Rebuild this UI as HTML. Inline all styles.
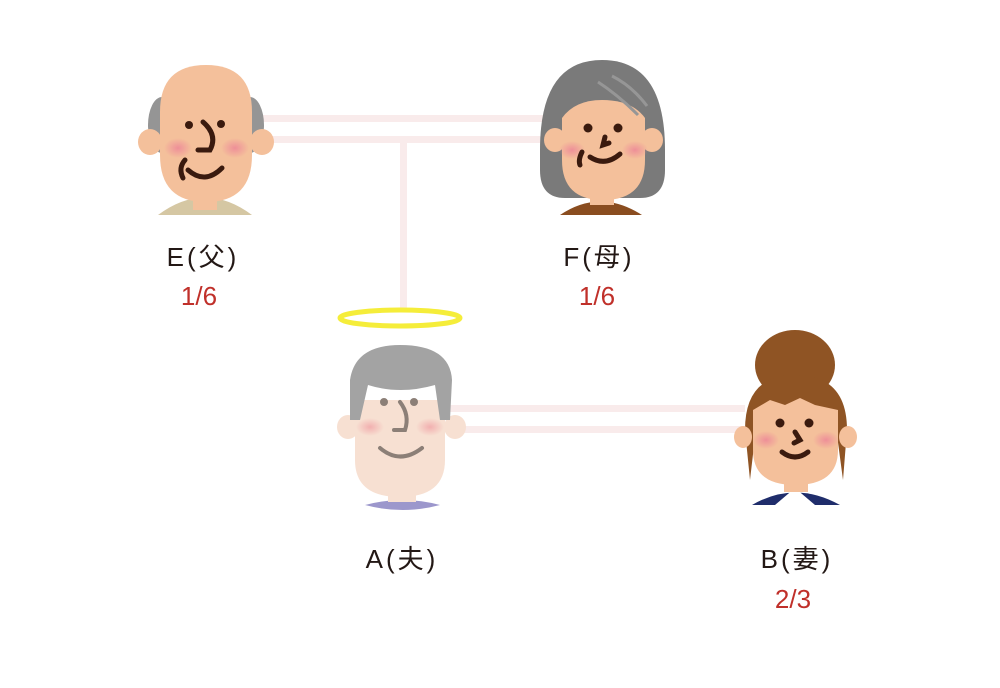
<!DOCTYPE html>
<html><head><meta charset="utf-8"><style>
html,body{margin:0;padding:0;background:#fff;}
svg{display:block}
text{font-family:"Liberation Sans","Noto Sans CJK JP",sans-serif;font-size:26px;text-anchor:middle}
.n{fill:#231815;letter-spacing:3px}.r{fill:#c0302a}
</style></head><body>
<svg width="1000" height="688" viewBox="0 0 1000 688" xmlns="http://www.w3.org/2000/svg">
<defs>
<radialGradient id="ch"><stop offset="0" stop-color="#ee8f98"/><stop offset="1" stop-color="#ee8f98" stop-opacity="0"/></radialGradient>
</defs>
<g fill="#f9ebeb">
<rect x="255" y="115" width="295" height="7"/>
<rect x="255" y="136" width="295" height="7"/>
<rect x="400" y="143" width="7" height="167"/>
<rect x="450" y="405" width="295" height="7"/>
<rect x="450" y="426" width="295" height="7"/>
</g>
<!-- E father -->
<path d="M158 215 Q205 180 252 215 Z" fill="#d5c7a3"/>
<rect x="193" y="180" width="24" height="30" fill="#f4c09b"/>
<ellipse cx="162" cy="125" rx="14" ry="28" fill="#959595"/>
<ellipse cx="250" cy="125" rx="14" ry="28" fill="#959595"/>
<ellipse cx="150" cy="142" rx="12" ry="13" fill="#f4c09b"/>
<ellipse cx="262" cy="142" rx="12" ry="13" fill="#f4c09b"/>
<path d="M160 112 Q160 65 206 65 Q252 65 252 112 L252 155 Q252 202 206 202 Q160 202 160 155 Z" fill="#f4c09b"/>
<ellipse cx="178" cy="148" rx="14" ry="10" fill="url(#ch)"/>
<ellipse cx="235" cy="148" rx="14" ry="10" fill="url(#ch)"/>
<g fill="none" stroke="#3a1a0e" stroke-width="5" stroke-linecap="round">
<path d="M203 122 Q218 135 210 150 L198 150"/>
<path d="M185 160 Q178 168 183 178"/>
<path d="M188 170 Q205 185 222 168"/>
</g>
<circle cx="189" cy="125" r="4" fill="#3a1a0e"/><circle cx="221" cy="124" r="4" fill="#3a1a0e"/>
<!-- F mother -->
<path d="M540 150 Q540 60 602 60 Q665 60 665 150 L665 170 Q665 198 640 198 L565 198 Q540 198 540 170 Z" fill="#7a7a7a"/>
<path d="M560 215 Q600 188 642 215 Z" fill="#8a4d20"/>
<rect x="590" y="180" width="24" height="25" fill="#f4c09b"/>
<ellipse cx="555" cy="140" rx="11" ry="12" fill="#f4c09b"/>
<ellipse cx="652" cy="140" rx="11" ry="12" fill="#f4c09b"/>
<path d="M562 118 Q575 100 602 100 Q632 100 645 118 L645 160 Q645 200 603 200 Q562 200 562 160 Z" fill="#f4c09b"/>
<g fill="none" stroke="#969696" stroke-width="3"><path d="M598 82 Q618 95 638 115"/><path d="M612 76 Q632 86 647 106"/></g>
<ellipse cx="572" cy="150" rx="13" ry="9" fill="url(#ch)"/>
<ellipse cx="635" cy="150" rx="13" ry="9" fill="url(#ch)"/>
<circle cx="588" cy="128" r="4.5" fill="#3a1a0e"/><circle cx="618" cy="128" r="4.5" fill="#3a1a0e"/>
<g fill="none" stroke="#3a1a0e" stroke-width="5" stroke-linecap="round">
<path d="M605 137 L603 145 L609 143"/><path d="M582 152 Q578 160 580 165"/><path d="M590 157 Q605 167 620 154"/>
</g>
<!-- A husband -->
<ellipse cx="400" cy="318" rx="60" ry="8" fill="none" stroke="#f5ed3a" stroke-width="5"/>
<path d="M365 505 Q403 495 440 505 Q403 515 365 505 Z" fill="#9c97cc"/>
<rect x="388" y="480" width="28" height="22" fill="#f7e0d2"/>
<ellipse cx="348" cy="427" rx="11" ry="12" fill="#f7e0d2"/>
<ellipse cx="455" cy="427" rx="11" ry="12" fill="#f7e0d2"/>
<path d="M355 400 L445 400 L445 460 Q445 497 400 497 Q355 497 355 460 Z" fill="#f7e0d2"/>
<path d="M350 420 L350 380 Q355 345 400 345 Q450 345 452 380 L450 420 L440 420 L435 385 Q400 395 368 385 L360 420 Z" fill="#a3a3a3"/>
<ellipse cx="370" cy="427" rx="14" ry="9" fill="url(#ch)" opacity=".6"/>
<ellipse cx="430" cy="427" rx="14" ry="9" fill="url(#ch)" opacity=".6"/>
<circle cx="384" cy="402" r="4" fill="#8c7f77"/><circle cx="414" cy="402" r="4" fill="#8c7f77"/>
<g fill="none" stroke="#8c7f77" stroke-width="4" stroke-linecap="round">
<path d="M400 402 Q410 415 405 430 L394 430"/><path d="M380 448 Q400 465 422 448"/>
</g>
<!-- B wife -->
<path d="M752 505 Q795 480 840 505 Z" fill="#1f2d6b"/>
<path d="M775 505 L795 488 L815 505 Z" fill="#fff"/>
<rect x="784" y="470" width="24" height="22" fill="#f4c09b"/>
<ellipse cx="795" cy="365" rx="40" ry="35" fill="#8f5424"/>
<path d="M745 430 Q745 375 795 375 Q847 375 847 430 L843 480 L835 420 L757 420 L750 480 Z" fill="#8f5424"/>
<ellipse cx="743" cy="437" rx="9" ry="11" fill="#f4c09b"/>
<ellipse cx="848" cy="437" rx="9" ry="11" fill="#f4c09b"/>
<path d="M753 410 L770 400 L785 405 L800 398 L815 405 L838 410 L838 450 Q838 485 795 485 Q753 485 753 450 Z" fill="#f4c09b"/>
<ellipse cx="766" cy="440" rx="13" ry="9" fill="url(#ch)"/>
<ellipse cx="826" cy="440" rx="13" ry="9" fill="url(#ch)"/>
<circle cx="780" cy="423" r="4.5" fill="#3a1a0e"/><circle cx="809" cy="423" r="4.5" fill="#3a1a0e"/>
<g fill="none" stroke="#3a1a0e" stroke-width="5" stroke-linecap="round">
<path d="M795 432 L800 440 L794 443"/><path d="M782 452 Q795 462 808 452"/>
</g>
<!-- labels -->
<text class="n" x="203" y="266">E(父)</text>
<text class="r" x="199" y="305">1/6</text>
<text class="n" x="599" y="266">F(母)</text>
<text class="r" x="597" y="305">1/6</text>
<text class="n" x="402" y="568">A(夫)</text>
<text class="n" x="797" y="568">B(妻)</text>
<text class="r" x="793" y="608">2/3</text>
</svg>
</body></html>
